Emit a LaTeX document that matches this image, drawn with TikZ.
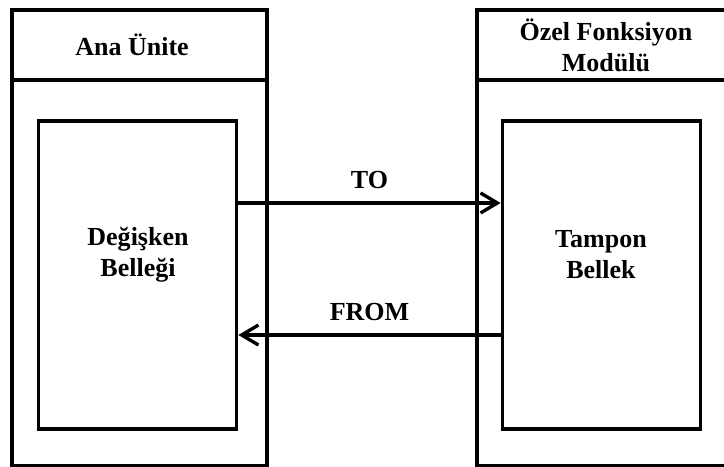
\documentclass[tikz,border=0pt]{standalone}
\usepackage{fontspec}
\setmainfont{Liberation Serif}
\usetikzlibrary{arrows.meta}

\begin{document}
\begin{tikzpicture}[x=0.025cm,y=-0.025cm,
	frame/.style={line width=2.6pt},
	membox/.style={draw,line width=2.6pt,minimum width=4.95cm,minimum height=7.7cm},
	title/.style={font=\fontsize{18.5}{22}\selectfont\bfseries,align=center},
	flow/.style={line width=2.4pt,-{Straight Barb[length=0.42cm,width=0.5cm,line width=2.4pt]}}]
	\useasboundingbox (0,0) rectangle (724,467);
	
	% main unit and special function module
	\draw[frame] (12,10) rectangle (267,466);
	\draw[frame] (12,80) -- (267,80);
	\draw[frame] (477,10) rectangle (728,466);
	\draw[frame] (477,80) -- (728,80);
	
	\node[title] (ana) at (132,45) {Ana Ünite};
	\node[title] (ozel) at (606,45) {Özel Fonksiyon\\Modülü};
	
	% memory areas
	\node[membox] (degisken) at (137.5,275) {};
	\node[membox] (tampon) at (601.5,275) {};
	\node[title] (degiskentxt) at (138,255) {Değişken\\Belleği};
	\node[title] (tampontxt) at (601,255) {Tampon\\Bellek};
	
	% transfers
	\draw[flow] ([yshift=1.8cm]degisken.east) -- node[title,above=0.2cm] (to) {TO} ([yshift=1.8cm]tampon.west);
	\draw[flow] ([yshift=-1.5cm]tampon.west) -- node[title,above=0.2cm] (from) {FROM} ([yshift=-1.5cm]degisken.east);
	
\end{tikzpicture}
\end{document}
